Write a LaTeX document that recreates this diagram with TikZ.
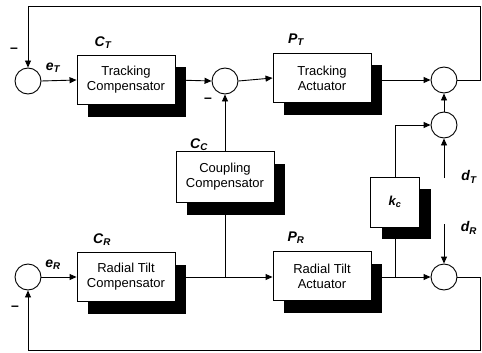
\documentclass[tikz,border=0pt]{standalone}
\usepackage{fontspec}
\setmainfont{Liberation Sans}
\usetikzlibrary{arrows.meta,shadows}
\newcommand{\blklabel}[2]{\textbf{\textit{#1\textsubscript{#2}}}}
\tikzset{
  block/.style={draw, line width=0.9pt, fill=white, minimum width=98pt, minimum height=49pt,
    inner sep=0pt, align=center, font=\fontsize{13}{15}\selectfont,
    general shadow={fill=black, shadow xshift=11pt, shadow yshift=-12pt}},
  sumnode/.style={draw, line width=0.9pt, circle, minimum size=26pt, inner sep=0pt},
  sig/.style={line width=0.9pt, -{Triangle[length=7pt,width=6pt]}},
  wire/.style={line width=0.9pt},
  lbl/.style={font=\fontsize{14}{14}\selectfont},
}
\begin{document}
\begin{tikzpicture}[x=1pt,y=-1pt]
\useasboundingbox (0,0) rectangle (482,353);

% Summing junctions
\node[sumnode] (sT) at (28,81) {};
\node[sumnode] (sM) at (225,81) {};
\node[sumnode] (oT) at (444,80) {};
\node[sumnode] (sD) at (444,125) {};
\node[sumnode] (sR) at (28,277) {};
\node[sumnode] (oR) at (444,277) {};

% Blocks
\node[block] (CT) at (126,80) {Tracking\\Compensator};
\node[block] (PT) at (322,78) {Tracking\\Actuator};
\node[block, minimum height=51pt] (CC) at (225,177) {Coupling\\Compensator};
\node[block, minimum width=49pt, minimum height=50pt] (kc) at (395,202) {\blklabel{k}{c}};
\node[block] (CR) at (126,277) {Radial Tilt\\Compensator};
\node[block] (PR) at (322,276) {Radial Tilt\\Actuator};

% Labels
\node[lbl] at (103,43) {\blklabel{C}{T}};
\node[lbl] at (296,40) {\blklabel{P}{T}};
\node[lbl] at (199,145) {\blklabel{C}{C}};
\node[lbl] at (102,240) {\blklabel{C}{R}};
\node[lbl] at (296,238) {\blklabel{P}{R}};
\node[lbl] at (53,68) {\blklabel{e}{T}};
\node[lbl] at (53,265) {\blklabel{e}{R}};
\node[lbl] at (469,177) {\blklabel{d}{T}};
\node[lbl] at (469,228) {\blklabel{d}{R}};
\node[lbl] at (14,50) {\textbf{--}};
\node[lbl] at (208,100) {\textbf{--}};
\node[lbl] at (15,308) {\textbf{--}};

% Tracking path
\draw[sig] (sT.east) -- (CT.west);
\draw[sig] (CT.east) -- (sM.west);
\draw[sig] (sM.east) -- (PT.west);
\draw[sig] (PT.east |- oT.west) -- (oT.west);
\coordinate (topR) at (480,6);
\draw[sig] (oT.east) -| (topR) -| (sT.north);

% Radial path
\draw[sig] (sR.east) -- (CR.west);
\draw[sig] (CR.east) -- (PR.west |- CR.east);
\draw[sig] (PR.east |- oR.west) -- (oR.west);
\coordinate (botR) at (480,350);
\draw[sig] (oR.east) -| (botR) -| (sR.south);

% Coupling
\coordinate (jC) at (CC.south |- CR.east);
\draw[wire] (jC) -- (CC.south);
\draw[sig] (CC.north) -- (sM.south);
\coordinate (jK) at (kc.south |- oR.west);
\draw[wire] (jK) -- (kc.south);
\draw[sig] (kc.north) |- (sD.west);
\draw[sig] (sD.north) -- (oT.south);

% Disturbances
\coordinate (dTin) at (444,178);
\coordinate (dRin) at (444,224);
\draw[sig] (dTin) -- (sD.south);
\draw[sig] (dRin) -- (oR.north);
\end{tikzpicture}
\end{document}
